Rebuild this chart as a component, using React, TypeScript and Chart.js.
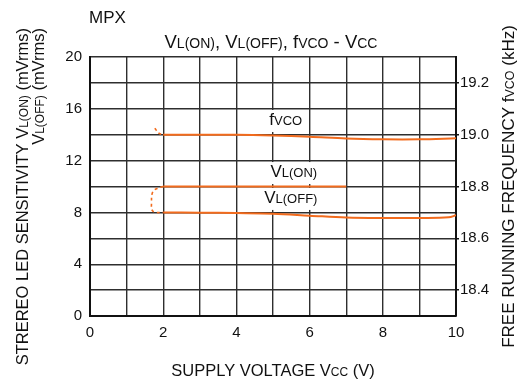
import React, { useEffect, useRef } from "react";
import { Chart, registerables } from "chart.js";

Chart.register(...registerables);

// ---- data ----
const vlOnX = [2, 3, 4, 5, 6, 7];
const vlOnY = [10, 10, 10, 10, 10, 10];

const vlOffX = [2, 3, 4, 5, 6, 7, 8, 9, 9.8, 10];
const vlOffY = [8, 7.98, 7.95, 7.9, 7.75, 7.6, 7.56, 7.57, 7.62, 7.78];

const fvcoX = [2, 3, 4, 5, 6, 7, 8, 9, 10];
const fvcoY = [19.0, 19.0, 19.0, 18.997, 18.992, 18.985, 18.982, 18.982, 18.986];

// dashed start-up segments
const fvcoStartX = [1.77, 1.88, 2];
const fvcoStartY = [19.025, 19.006, 19.0];

const vlLoopX = [2, 1.83, 1.71, 1.68, 1.7, 1.8, 2];
const vlLoopY = [10, 9.85, 9.55, 8.7, 8.15, 8.0, 8.0];

const xTicks = [0, 2, 4, 6, 8, 10];
const yTicks = [0, 4, 8, 12, 16, 20];
const y2Ticks = [18.4, 18.6, 18.8, 19.0, 19.2];

const FONT = "'Liberation Sans', Arial, Helvetica, sans-serif";
const ORANGE = "#f26b1d";
const GRID = "#2e2e2e";

type Run = { t: string; s: number };

const titleRuns: Run[] = [
  { t: "V", s: 18.5 }, { t: "L(ON)", s: 14 }, { t: ", ", s: 18.5 },
  { t: "V", s: 18.5 }, { t: "L(OFF)", s: 14 }, { t: ", ", s: 18.5 },
  { t: "f", s: 18.5 }, { t: "VCO", s: 14 }, { t: " - ", s: 18.5 },
  { t: "V", s: 18.5 }, { t: "CC", s: 14 },
];
const xTitleRuns: Run[] = [
  { t: "SUPPLY VOLTAGE V", s: 16.5 }, { t: "CC", s: 12 }, { t: " (V)", s: 16.5 },
];
const yTitle1Runs: Run[] = [
  { t: "STREREO LED SENSITIVITY V", s: 16.5 }, { t: "L(ON)", s: 12 }, { t: " (mVrms)", s: 16.5 },
];
const yTitle2Runs: Run[] = [
  { t: "V", s: 16.5 }, { t: "L(OFF)", s: 12 }, { t: " (mVrms)", s: 16.5 },
];
const y2TitleRuns: Run[] = [
  { t: "FREE RUNNING FREQUENCY f", s: 17 }, { t: "VCO", s: 12.5 }, { t: " (kHz)", s: 17 },
];

// in-plot labels (anchored in data units, left axis)
const curveLabels: { runs: Run[]; x: number; y: number; padR: number }[] = [
  { runs: [{ t: "f", s: 17 }, { t: "VCO", s: 13 }], x: 4.9, y: 14.75, padR: 6 },
  { runs: [{ t: "V", s: 17 }, { t: "L(ON)", s: 13 }], x: 4.93, y: 10.73, padR: 22 },
  { runs: [{ t: "V", s: 17 }, { t: "L(OFF)", s: 13 }], x: 4.76, y: 8.73, padR: 22 },
];

function runsWidth(ctx: CanvasRenderingContext2D, runs: Run[]) {
  let w = 0;
  for (const r of runs) {
    ctx.font = `${r.s}px ${FONT}`;
    w += ctx.measureText(r.t).width;
  }
  return w;
}

function drawRuns(
  ctx: CanvasRenderingContext2D,
  runs: Run[],
  x: number,
  y: number,
  align: "left" | "center" | "right",
  rot = 0
) {
  ctx.save();
  ctx.translate(x, y);
  if (rot) ctx.rotate(rot);
  const w = runsWidth(ctx, runs);
  let cx = align === "left" ? 0 : align === "center" ? -w / 2 : -w;
  ctx.textBaseline = "alphabetic";
  ctx.textAlign = "left";
  ctx.fillStyle = "#111";
  for (const r of runs) {
    ctx.font = `${r.s}px ${FONT}`;
    ctx.fillText(r.t, cx, 0);
    cx += ctx.measureText(r.t).width;
  }
  ctx.restore();
  return w;
}

const textPlugin = {
  id: "richText",
  beforeDatasetsDraw(chart: any) {
    const ctx = chart.ctx as CanvasRenderingContext2D;
    const xs = chart.scales.x;
    const ys = chart.scales.y;
    for (const l of curveLabels) {
      const px = xs.getPixelForValue(l.x);
      const py = ys.getPixelForValue(l.y);
      const w = runsWidth(ctx, l.runs);
      ctx.save();
      ctx.fillStyle = "#fff";
      ctx.fillRect(px - 5, py - 15, w + 5 + l.padR, 22);
      ctx.restore();
      drawRuns(ctx, l.runs, px, py, "left");
    }
  },
  afterDraw(chart: any) {
    const ctx = chart.ctx as CanvasRenderingContext2D;
    const a = chart.chartArea;
    const cx = (a.left + a.right) / 2;
    const cy = (a.top + a.bottom) / 2;
    // header
    ctx.save();
    ctx.font = `17px ${FONT}`;
    ctx.fillStyle = "#111";
    ctx.textBaseline = "alphabetic";
    ctx.fillText("MPX", a.left - 1, 23);
    ctx.restore();
    drawRuns(ctx, titleRuns, cx - 2, 48, "center");
    drawRuns(ctx, xTitleRuns, cx, 376, "center");
    drawRuns(ctx, yTitle1Runs, 28, a.top - 29, "right", -Math.PI / 2);
    drawRuns(ctx, yTitle2Runs, 44, a.top - 29, "right", -Math.PI / 2);
    drawRuns(ctx, y2TitleRuns, 514, cy, "center", -Math.PI / 2);
  },
};

function pts(xs: number[], ys: number[]) {
  return xs.map((x, i) => ({ x, y: ys[i] }));
}

export default function App() {
  const ref = useRef<HTMLCanvasElement | null>(null);

  useEffect(() => {
    if (!ref.current) return;
    Chart.defaults.font.family = FONT;
    const solid = (data: any, axis: string) => ({
      data,
      yAxisID: axis,
      borderColor: ORANGE,
      borderWidth: 2,
      pointRadius: 0,
      tension: 0.35,
      fill: false,
    });
    const dashed = (data: any, axis: string) => ({
      data,
      yAxisID: axis,
      borderColor: ORANGE,
      borderWidth: 1.6,
      borderDash: [3, 3],
      pointRadius: 0,
      tension: 0.4,
      fill: false,
    });
    const chart = new Chart(ref.current, {
      type: "line",
      data: {
        datasets: [
          solid(pts(fvcoX, fvcoY), "y2"),
          solid(pts(vlOnX, vlOnY), "y"),
          solid(pts(vlOffX, vlOffY), "y"),
          dashed(pts(fvcoStartX, fvcoStartY), "y2"),
          dashed(pts(vlLoopX, vlLoopY), "y"),
        ] as any,
      },
      options: {
        animation: false,
        responsive: false,
        events: [],
        layout: { padding: { top: 57, left: 0, right: 0, bottom: 0 } },
        plugins: { legend: { display: false }, tooltip: { enabled: false }, title: { display: false } },
        scales: {
          x: {
            type: "linear",
            min: 0,
            max: 10,
            ticks: {
              stepSize: 1,
              autoSkip: false,
              maxRotation: 0,
              padding: 8,
              color: "#111",
              font: { size: 15, family: FONT },
              callback: (v: any) => (xTicks.includes(Number(v)) ? String(v) : ""),
            },
            grid: { color: GRID, lineWidth: 1.4, drawTicks: false },
            border: { color: "#111", width: 2 },
            afterFit: (s: any) => { s.height = 70; },
          },
          y: {
            type: "linear",
            position: "left",
            min: 0,
            max: 20,
            ticks: {
              stepSize: 2,
              autoSkip: false,
              padding: 8,
              color: "#111",
              font: { size: 15, family: FONT },
              callback: (v: any) => (yTicks.includes(Number(v)) ? String(v) : ""),
            },
            grid: { color: GRID, lineWidth: 1.4, drawTicks: false },
            border: { color: "#111", width: 2 },
            afterFit: (s: any) => { s.width = 90; },
          },
          y2: {
            type: "linear",
            position: "right",
            min: 18.3,
            max: 19.3,
            afterBuildTicks: (s: any) => { s.ticks = y2Ticks.map((v) => ({ value: v })); },
            ticks: {
              autoSkip: false,
              padding: 1,
              color: "#111",
              font: { size: 15, family: FONT },
              callback: (v: any) => Number(v).toFixed(1),
            },
            grid: { drawOnChartArea: false, drawTicks: true, tickLength: 3, color: "#111", lineWidth: 1.4 },
            border: { color: "#111", width: 2 },
            afterFit: (s: any) => { s.width = 63; },
          },
        },
      } as any,
      plugins: [textPlugin],
    });
    return () => chart.destroy();
  }, []);

  return (
    <div style={{ position: "fixed", left: 0, top: 0, width: 519, height: 386, background: "#fff" }}>
      <canvas ref={ref} width={519} height={386} />
    </div>
  );
}
